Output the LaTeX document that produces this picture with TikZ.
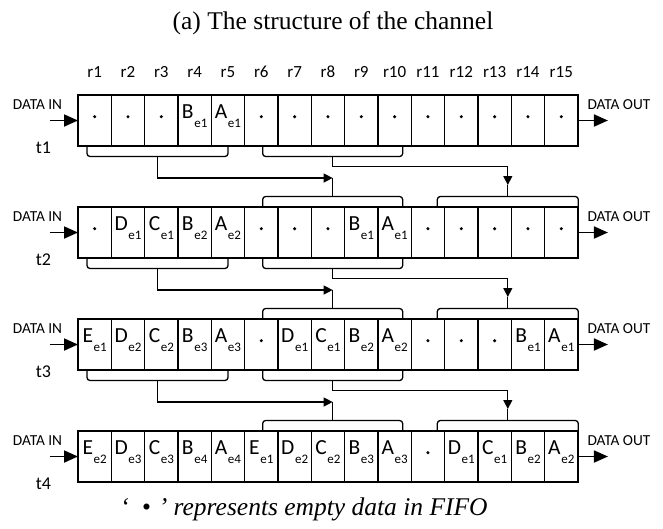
\documentclass[tikz,border=0pt]{standalone}
\usepackage{fontspec}
\setmainfont{Liberation Serif}
\newfontfamily\cellfont{Carlito}
\usetikzlibrary{arrows.meta}

% Register entry: letter with element index.
\newcommand{\ent}[2]{#1\kern0.6pt\raisebox{-9pt}{\fontsize{13}{13}\selectfont e#2}}

\begin{document}
\begin{tikzpicture}[
  x=1pt, y=1pt,
  font=\cellfont,
  cell/.style={draw, line width=1.2pt, minimum width=33.33pt, minimum height=51pt,
    inner sep=0pt, outer sep=0pt, anchor=north west},
  entry/.style={font=\cellfont\fontsize{21.5}{21.5}\selectfont, anchor=base, inner sep=0pt},
  reglabel/.style={font=\cellfont\fontsize{17}{17}\selectfont},
  portlabel/.style={font=\cellfont\fontsize{15.3}{15.3}\selectfont},
  timelabel/.style={font=\cellfont\fontsize{18}{18}\selectfont},
  brace/.style={line width=1.3pt, rounded corners=3pt},
  stem/.style={line width=1.3pt},
  feed/.style={line width=1.3pt, -{Triangle[length=9pt,width=9pt]}},
  port/.style={line width=1.8pt, -{Triangle[length=14pt,width=12pt]}},
  caption/.style={font=\fontsize{25.5}{25.5}\selectfont, anchor=base},
]

\useasboundingbox (0,0) rectangle (663,-528);

\def\cellw{33.33}
\def\xstart{78}
\def\ystart{-95}
\def\rowgap{112}

% Helper macro: time step, register, content (empty gives a dot).
\newcommand{\fifocell}[3]{%
  \pgfmathsetmacro{\x}{\xstart + (#2-1) * \cellw}%
  \pgfmathsetmacro{\y}{\ystart - (#1-1) * \rowgap}%
  \node[cell] (t#1r#2) at (\x,\y) {};%
  \ifx#3\empty
    \fill ([yshift=3.8pt]t#1r#2.center) circle (1.7pt);%
  \else
    \node[entry] at ([yshift=2.2pt]t#1r#2.center) {#3};%
  \fi
}

% Helper macros: bracket below / above a register group, named stem point.
\newcommand{\downbrace}[4]{%
  \draw[brace] (#1.south west) ++(#2,0) -- ++(0,-10.5) -- ++(#3,0) -- ++(0,10.5);%
  \path (#1.south west) ++(#2+#3/2,-10.5) coordinate (#4);%
}
\newcommand{\upbrace}[4]{%
  \draw[brace] (#1.north west) ++(#2,0) -- ++(0,10.5) -- ++(#3,0) -- ++(0,-10.5);%
  \path (#1.north west) ++(#2+#3/2,10.5) coordinate (#4);%
}

% Title.
\node[caption] (title) at (333,-29.3) {(a) The structure of the channel};

% Row t1.
\foreach \txt [count=\c] in {{},{},{},\ent{B}{1},\ent{A}{1},{},{},{},{},{},{},{},{},{},{}}
  {\fifocell{1}{\c}{\txt}}

% Row t2.
\foreach \txt [count=\c] in {{},\ent{D}{1},\ent{C}{1},\ent{B}{2},\ent{A}{2},{},{},{},\ent{B}{1},\ent{A}{1},{},{},{},{},{}}
  {\fifocell{2}{\c}{\txt}}

% Row t3.
\foreach \txt [count=\c] in {\ent{E}{1},\ent{D}{2},\ent{C}{2},\ent{B}{3},\ent{A}{3},{},\ent{D}{1},\ent{C}{1},\ent{B}{2},\ent{A}{2},{},{},{},\ent{B}{1},\ent{A}{1}}
  {\fifocell{3}{\c}{\txt}}

% Row t4.
\foreach \txt [count=\c] in {\ent{E}{2},\ent{D}{3},\ent{C}{3},\ent{B}{4},\ent{A}{4},\ent{E}{1},\ent{D}{2},\ent{C}{2},\ent{B}{3},\ent{A}{3},{},\ent{D}{1},\ent{C}{1},\ent{B}{2},\ent{A}{2}}
  {\fifocell{4}{\c}{\txt}}

% Register names.
\foreach \c in {1,...,15}
  \node[reglabel] (reg\c) at ([yshift=23pt]t1r\c.north) {r\c};

% Ports and time steps.
\foreach \k in {1,...,4} {
  \coordinate (in\k) at ([xshift=-28pt]t\k r1.west);
  \coordinate (out\k) at ([xshift=30pt]t\k r15.east);
  \draw[port] (in\k) -- (t\k r1.west);
  \draw[port] (t\k r15.east) -- (out\k);
  \node[portlabel] (inlabel\k) at ([xshift=-40.5pt,yshift=15.5pt]t\k r1.west) {DATA IN};
  \node[portlabel] (outlabel\k) at ([xshift=41pt,yshift=15.5pt]t\k r15.east) {DATA OUT};
  \node[timelabel] (time\k) at ([xshift=-34.5pt,yshift=-2pt]t\k r1.south west) {t\k};
}

% Brackets.
\foreach \k in {1,2,3} {
  \downbrace{t\k r1}{9}{141}{lo\k L}
  \downbrace{t\k r6}{18}{140}{lo\k M}
}
\foreach \k in {2,3,4} {
  \upbrace{t\k r6}{18}{140}{up\k M}
  \upbrace{t\k r11}{26}{141}{up\k R}
}

% Shifts from one time step to the next.
\foreach \k [evaluate=\k as \n using int(\k+1)] in {1,2,3} {
  \draw[feed] (lo\k L) |- ([yshift=18.5pt]up\n M);
  \draw[stem] (up\n M) -- ([yshift=18.5pt]up\n M);
  \draw[feed] (lo\k M) -- ++(0,-10) -| ([yshift=11.5pt]up\n R);
  \draw[stem] (up\n R) -- ([yshift=11.5pt]up\n R);
}

% Note.
\node[caption, font=\fontsize{25.5}{25.5}\selectfont\itshape] (note) at (304,-515)
  {‘\kern13pt\textbullet\kern8pt’\ represents empty data in FIFO};

\end{tikzpicture}
\end{document}
